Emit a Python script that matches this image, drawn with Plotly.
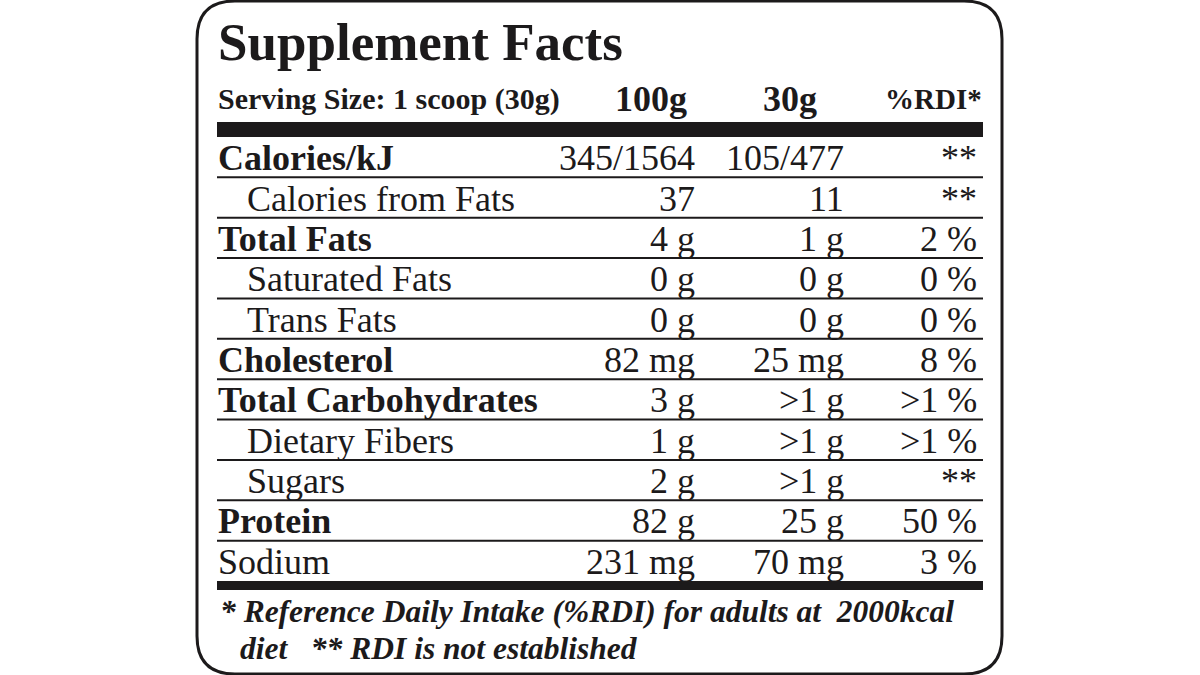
import plotly.graph_objects as go

# label content
title_text = "Supplement Facts"
serving_text = "Serving Size: 1 scoop (30g)"
col_headers = ["100g", "30g", "%RDI*"]

nutrients = ["Calories/kJ", "Calories from Fats", "Total Fats", "Saturated Fats", "Trans Fats",
             "Cholesterol", "Total Carbohydrates", "Dietary Fibers", "Sugars", "Protein", "Sodium"]
per_100g = ["345/1564", "37", "4 g", "0 g", "0 g", "82 mg", "3 g", "1 g", "2 g", "82 g", "231 mg"]
per_30g = ["105/477", "11", "1 g", "0 g", "0 g", "25 mg", ">1 g", ">1 g", ">1 g", "25 g", "70 mg"]
rdi = ["**", "**", "2 %", "0 %", "0 %", "8 %", ">1 %", ">1 %", "**", "50 %", "3 %"]

footnote_1 = "* Reference Daily Intake (%RDI) for adults at  2000kcal"
footnote_2 = "diet   ** RDI is not established"

# styling of rows
bold_rows = {"Calories/kJ", "Total Fats", "Cholesterol", "Total Carbohydrates", "Protein"}
sub_rows = {"Calories from Fats", "Saturated Fats", "Trans Fats", "Dietary Fibers", "Sugars"}

INK = "#1c1a1b"
FONT = "Liberation Serif"
W, H = 1200, 675

# geometry (pixels, y down)
left, right = 217, 983
table_top, table_bottom = 137, 581
row_h = (table_bottom - table_top) / len(nutrients)
col_right = [697, 846, 979]


def txt(x, y, s, size, anchor="left"):
    return dict(x=x, y=y, xref="x", yref="y", text=s, showarrow=False,
                xanchor=anchor, yanchor="middle",
                font=dict(family=FONT, size=size, color=INK))


fig = go.Figure()

shapes = []
# rounded outer box
x0, x1, y0, y1, r = 197, 1002, 1, 674, 38
path = (f"M {x0+r},{y0} L {x1-r},{y0} Q {x1},{y0} {x1},{y0+r} "
        f"L {x1},{y1-r} Q {x1},{y1} {x1-r},{y1} L {x0+r},{y1} "
        f"Q {x0},{y1} {x0},{y1-r} L {x0},{y0+r} Q {x0},{y0} {x0+r},{y0} Z")
shapes.append(dict(type="path", path=path, xref="x", yref="y",
                   line=dict(color=INK, width=3)))
# thick bars
shapes.append(dict(type="rect", x0=left, x1=right, y0=122, y1=table_top, xref="x", yref="y",
                   fillcolor=INK, line=dict(width=0)))
shapes.append(dict(type="rect", x0=left, x1=right, y0=table_bottom, y1=590, xref="x", yref="y",
                   fillcolor=INK, line=dict(width=0)))
# row separators
for i in range(1, len(nutrients)):
    yy = table_top + i * row_h
    shapes.append(dict(type="line", x0=left, x1=right, y0=yy, y1=yy, xref="x", yref="y",
                       line=dict(color=INK, width=2)))

ann = []
ann.append(txt(216, 42, f"<b>{title_text}</b>", 53))
ann.append(txt(216, 99, f"<b>{serving_text}</b>", 30))
ann.append(txt(689, 99, f"<b>{col_headers[0]}</b>", 36, "right"))
ann.append(txt(819, 99, f"<b>{col_headers[1]}</b>", 36, "right"))
ann.append(txt(984, 99, f"<b>{col_headers[2]}</b>", 29, "right"))

for i, name in enumerate(nutrients):
    yc = table_top + (i + 0.5) * row_h + 1
    label = f"<b>{name}</b>" if name in bold_rows else name
    xl = 245 if name in sub_rows else 216
    ann.append(txt(xl, yc, label, 36))
    for xr, val in zip(col_right, [per_100g[i], per_30g[i], rdi[i]]):
        ann.append(txt(xr, yc, val, 36, "right"))

ann.append(txt(218, 611, f"<b><i>{footnote_1}</i></b>", 31.5))
ann.append(txt(238, 648, f"<b><i>{footnote_2}</i></b>", 31.5))

fig.update_layout(
    width=W, height=H,
    margin=dict(l=0, r=0, t=0, b=0),
    paper_bgcolor="white", plot_bgcolor="white",
    xaxis=dict(range=[0, W], visible=False, fixedrange=True),
    yaxis=dict(range=[H, 0], visible=False, fixedrange=True),
    shapes=shapes, annotations=ann, showlegend=False,
)

fig.write_html("out.html", config={"displayModeBar": False},
               post_script="document.body.style.margin='0';")
